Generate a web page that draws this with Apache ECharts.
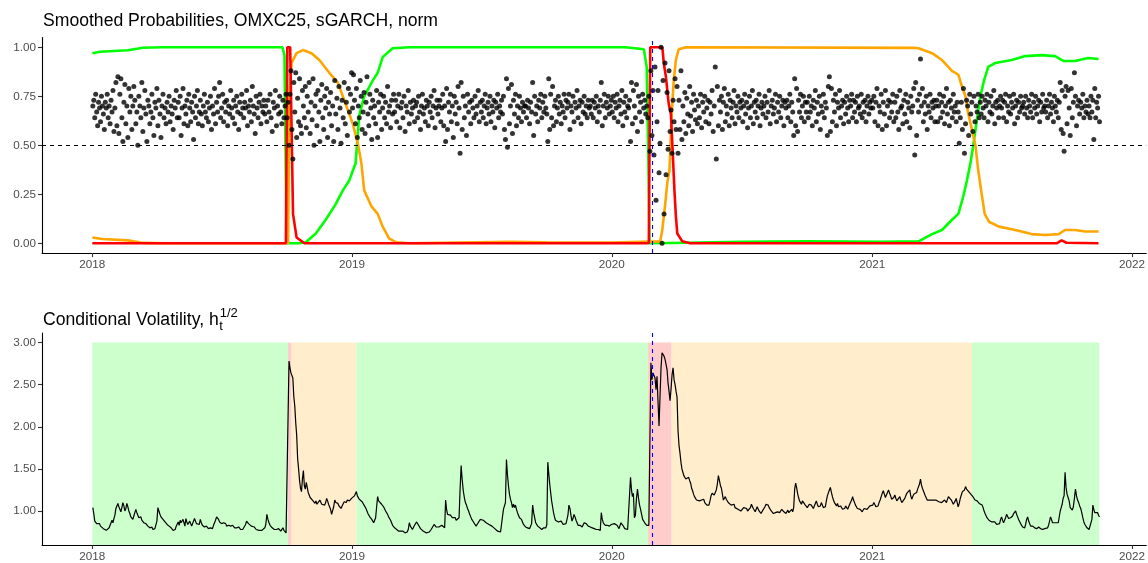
<!DOCTYPE html>
<html>
<head>
<meta charset="utf-8">
<title>Smoothed Probabilities and Conditional Volatility, OMXC25</title>
<script src="https://cdn.jsdelivr.net/npm/echarts@6/dist/echarts.min.js"></script>
<style>
  html, body { margin: 0; padding: 0; background: #fff; }
  #chart { width: 1148px; height: 563px; }
</style>
</head>
<body>
<div id="chart"></div>
<script>
// ---------- data ----------
// Tick labels
const yearTicks = ['2018-01-01', '2019-01-01', '2020-01-01', '2021-01-01', '2022-01-01'];
const probTicks = [0, 0.25, 0.5, 0.75, 1];
const volTicks = [1, 1.5, 2, 2.5, 3];

// Smoothed regime probabilities [date, probability]
const pLow = [
  ['2018-01-01',0.97],['2018-01-12',0.977],['2018-02-20',0.985],['2018-03-13',0.998],['2018-04-10',1.0],
  ['2018-09-25',1.0],['2018-09-28',0.96],['2018-10-01',0.0],['2018-10-19',0.0],['2018-10-28',0.005],
  ['2018-11-11',0.05],['2018-11-25',0.12],['2018-12-09',0.20],['2018-12-19',0.27],['2018-12-28',0.32],
  ['2019-01-06',0.41],['2019-01-08',0.51],['2019-01-11',0.65],['2019-01-18',0.75],['2019-01-30',0.83],
  ['2019-02-06',0.87],['2019-02-13',0.95],['2019-02-27',0.995],['2019-03-23',1.0],['2020-01-20',1.0],
  ['2020-02-15',0.99],['2020-02-19',0.9],['2020-02-21',0.5],['2020-02-23',0.0],['2020-04-15',0.003],
  ['2020-07-01',0.008],['2020-10-01',0.01],['2021-01-15',0.008],['2021-03-07',0.01],['2021-03-26',0.047],
  ['2021-04-09',0.068],['2021-04-23',0.12],['2021-05-02',0.15],['2021-05-09',0.24],['2021-05-14',0.32],
  ['2021-05-19',0.41],['2021-05-23',0.50],['2021-05-28',0.63],['2021-06-02',0.75],['2021-06-07',0.83],
  ['2021-06-13',0.90],['2021-06-23',0.92],['2021-07-16',0.935],['2021-08-04',0.955],['2021-08-27',0.96],
  ['2021-09-15',0.955],['2021-09-27',0.93],['2021-10-13',0.93],['2021-10-31',0.945],['2021-11-15',0.94]
];
const pMid = [
  ['2018-01-01',0.03],['2018-01-15',0.022],['2018-02-20',0.015],['2018-03-13',0.002],['2018-04-10',0],
  ['2018-10-03',0],['2018-10-05',0.75],['2018-10-08',0.92],['2018-10-15',0.97],['2018-10-24',0.986],
  ['2018-11-05',0.97],['2018-11-16',0.935],['2018-11-30',0.87],['2018-12-12',0.82],['2018-12-24',0.70],
  ['2019-01-02',0.61],['2019-01-09',0.51],['2019-01-14',0.41],['2019-01-18',0.27],['2019-01-28',0.19],
  ['2019-02-06',0.15],['2019-02-13',0.085],['2019-02-22',0.025],['2019-03-04',0.005],['2019-03-23',0],
  ['2019-06-01',0.004],['2019-08-10',0.008],['2019-10-01',0.005],['2020-01-01',0.004],['2020-03-09',0.01],
  ['2020-03-12',0.07],['2020-03-16',0.20],['2020-03-19',0.31],['2020-03-22',0.37],['2020-03-25',0.65],
  ['2020-03-28',0.83],['2020-03-31',0.935],['2020-04-04',0.99],['2020-04-14',1.0],['2021-03-01',0.997],
  ['2021-03-07',0.995],['2021-03-26',0.97],['2021-04-09',0.935],['2021-04-23',0.88],['2021-05-02',0.86],
  ['2021-05-07',0.80],['2021-05-12',0.75],['2021-05-16',0.66],['2021-05-21',0.58],['2021-05-26',0.50],
  ['2021-05-30',0.37],['2021-06-03',0.27],['2021-06-08',0.15],['2021-06-14',0.11],['2021-06-28',0.085],
  ['2021-07-21',0.068],['2021-08-13',0.047],['2021-09-01',0.042],['2021-09-20',0.047],['2021-09-29',0.068],
  ['2021-10-13',0.068],['2021-10-27',0.06],['2021-11-15',0.06]
];
const pHigh = [
  ['2018-01-01',0],['2018-09-30',0],['2018-10-02',1],['2018-10-06',1],['2018-10-08',0.58],
  ['2018-10-10',0.15],['2018-10-15',0.03],['2018-10-26',0],['2020-02-22',0],['2020-02-24',1],
  ['2020-03-12',1],['2020-03-14',0.92],['2020-03-17',0.85],['2020-03-21',0.71],['2020-03-24',0.66],
  ['2020-03-26',0.51],['2020-03-29',0.27],['2020-03-31',0.14],['2020-04-02',0.05],['2020-04-09',0.01],
  ['2020-04-20',0],['2021-09-17',0],['2021-09-24',0.015],['2021-10-01',0.003],['2021-11-15',0]
];

// Daily points shown in the upper panel, one row per month (x100)
const obs2018 = [
  [70,73,64,76,67,60,72,69,62,75,70,66,58,72,69,76,64,70,61,73,67,78,57],
  [69,82,60,85,56,76,84,64,52,72,81,61,70,54,79,67,75,58,70,80],
  [73,61,67,50,75,70,64,82,57,69,78,66,52,73,70,61,67,76,64,55,72,69],
  [79,60,73,66,54,70,76,64,69,61,72,67,75,62,70,66,58,73,69,78,64],
  [72,64,75,55,69,79,61,70,66,73,60,76,69,62,72,67,53,75,64,70,78,61,67],
  [73,66,60,70,76,67,64,72,62,69,75,58,70,66,79,61,72,67,75,82,64],
  [69,76,62,72,67,73,60,70,66,78,69,64,73,61,70,75,67,58,72,66,76,69],
  [64,72,69,78,60,70,67,73,62,80,70,66,56,75,69,64,72,76,61,70,67,73,66],
  [70,62,73,67,76,64,57,72,69,78,60,70,66,75,67,61,73,64,70,76],
  [64,72,50,76,88,58,43,82,67,87,54,74,62,84,60,56,78,70,64,80,59,75,67],
  [82,56,72,63,84,50,70,76,60,78,67,52,73,81,64,58,75,69,79,54,72,66],
  [77,60,70,52,83,66,74,58,80,69,51,73,64,82,61,72,55,79,67,76,87]
];
const obs2019 = [
  [69,86,73,61,79,54,70,64,83,75,58,67,77,56,72,85,66,60,76,69,53,73,64],
  [70,61,78,54,72,67,76,58,69,75,64,72,61,80,67,70,59,73,66,76],
  [67,73,62,70,76,59,69,72,64,75,57,70,67,78,61,72,66,69,73,62,70],
  [72,64,75,67,58,70,76,66,69,62,73,70,60,72,67,75,64,70,78,59,69,73],
  [66,70,73,62,69,76,60,70,52,79,58,72,67,76,62,70,54,75,66,72,61,80,69],
  [46,82,58,75,64,70,55,76,67,72,61,73,69,64,75,66,70,78,62,72],
  [67,73,64,70,76,61,69,72,66,75,62,70,67,73,59,72,69,76,64,70,67,73,66],
  [75,58,53,84,49,79,61,70,81,56,73,66,76,60,70,64,75,69,62,72,67,70],
  [70,64,73,69,61,72,67,82,55,75,66,70,62,73,69,76,64,72,67,75,69],
  [66,52,84,58,76,64,80,60,70,73,62,69,75,66,72,61,70,67,76,64,73,69,72],
  [76,58,70,67,75,62,72,69,78,64,70,73,61,72,67,75,66,70,64,73,69],
  [70,66,73,64,72,69,75,62,70,67,73,82,60,70,76,64,72,69,75,66,70,73]
];
const obs2020 = [
  [67,75,64,72,69,76,62,70,73,66,78,60,72,67,75,64,70,69,73,52,82,61,78],
  [70,64,81,57,75,67,72,62,76,69,73,66,70,64,75,47,88,55,78,45],
  [90,22,62,78,36,51,100,0,83,15,92,35,77,48,88,57,68,46,73,62,84,58],
  [80,46,73,58,88,53,70,62,77,56,74,66,60,80,65,72,57,76,68,63,73,61],
  [70,64,76,59,72,67,75,62,69,73,61,72,66,78,57,70,90,43,80,60,73],
  [67,75,58,72,79,62,70,66,76,60,73,69,64,72,78,61,70,67,75,64,72,69],
  [73,62,70,76,66,72,59,69,75,64,70,78,61,72,67,73,64,70,76,60,69,72,66],
  [70,75,64,72,67,78,61,70,73,66,69,76,62,72,67,75,64,70,73,60,72],
  [69,73,64,70,76,62,72,67,55,84,60,79,57,73,67,76,64,70,75,62,72,67],
  [72,64,75,67,70,60,73,69,78,62,72,66,75,58,70,67,76,64,72,69,55,80],
  [85,57,79,62,73,67,76,60,72,69,78,64,70,73,61,72,66,75,69,62,73],
  [70,76,64,73,67,72,62,75,69,70,66,76,64,72,67,73,62,70,75,66,72,69,73]
];
const obs2021 = [
  [69,75,62,72,79,60,70,67,76,58,72,66,78,60,70,73,64,72,67,76,62],
  [72,64,75,67,58,78,69,70,61,73,66,76,62,72,69,59,75,67,70,79],
  [45,82,55,73,67,76,94,70,79,62,72,66,75,58,70,67,76,64,72,69,73,62,70],
  [73,62,70,76,64,72,67,75,61,70,79,66,72,60,73,69,64,76,67,70,62,72],
  [67,51,64,72,58,79,46,61,73,70,55,76,66,72,57,75,62,70,67,76,64],
  [72,66,75,69,64,73,70,76,62,72,67,75,66,70,78,61,72,69,73,64,70,75],
  [69,73,64,72,76,62,70,67,75,66,72,69,76,61,70,73,64,72,67,75,69,70],
  [72,66,75,69,64,73,70,67,76,64,72,69,75,66,70,73,62,72,67,76,69,70],
  [67,73,64,70,76,66,72,69,62,75,70,67,73,64,72,82,58,78,56,47,75,80],
  [61,78,69,55,79,64,72,87,75,60,70,73,66,72,69,76,64,70,67,73,66],
  [70,64,75,67,73,53,79,64,72,69,75,62]
];

// Conditional volatility h_t^(1/2), one row per month (x100)
const vol2018 = [
  [104,97,88,86,85,84,83,85,82,81,80,79,80,78,77,76,77,80,78,82,89,86,91],
  [95,103,106,109,105,102,99,104,110,106,100,103,109,105,100,97,93,92,90,94],
  [96,102,98,95,92,90,93,89,88,86,87,85,84,82,83,80,79,81,78,77,79,78],
  [88,104,100,96,93,92,90,88,87,86,84,83,82,81,80,79,77,76,78,82,84],
  [87,83,89,86,84,90,86,82,91,87,84,83,88,85,82,80,84,91,88,85,83,86,84],
  [90,86,83,82,81,80,82,80,79,81,80,78,79,83,86,89,93,91,90,87,85],
  [85,87,86,84,85,82,80,83,84,82,81,83,82,80,81,80,79,81,80,78,79,78],
  [78,79,84,88,86,85,83,84,82,81,80,81,79,78,79,78,77,78,76,77,76,78,80],
  [84,96,90,86,83,81,80,79,78,79,78,77,79,77,76,78,80,77,75,74],
  [75,74,278,270,264,262,258,236,225,205,190,162,150,136,127,123,138,148,130,126,134,128,122],
  [119,116,114,115,112,111,109,112,108,107,110,113,111,108,106,109,107,110,115,112,108,105],
  [102,96,98,105,113,110,111,109,106,104,103,106,108,111,112,110,113,111,112,114,115]
];
const vol2019 = [
  [115,116,118,120,123,118,117,114,115,112,111,109,107,105,103,100,97,95,93,91,90,88,86],
  [86,92,105,117,112,113,110,108,107,105,103,100,98,96,93,92,89,86,83,81],
  [80,79,78,77,76,77,76,75,76,75,74,76,75,78,86,82,80,78,79,83,84],
  [87,85,83,81,79,78,77,76,76,75,74,75,74,75,76,78,77,80,84,82,81,83],
  [82,81,80,82,83,81,82,80,113,102,96,95,94,95,93,92,93,91,92,89,90,88,92],
  [125,154,137,124,116,110,107,103,100,96,93,90,88,86,84,82,84,86,88,90],
  [90,92,89,91,88,86,87,85,84,83,84,82,81,80,79,78,77,76,76,75,75,74,75],
  [102,106,110,161,143,130,120,114,110,104,108,104,107,102,98,97,92,94,90,87,84,82],
  [81,82,80,81,79,80,85,107,98,92,86,84,82,81,80,79,78,79,80,82,80],
  [84,158,145,132,122,112,105,98,93,89,88,89,87,89,88,88,86,84,83,82,85,87,95],
  [107,103,95,88,91,96,93,89,86,83,82,83,84,81,83,86,88,85,83,82,82],
  [81,80,80,79,79,78,78,77,78,77,77,98,90,86,84,83,82,83,84,82,83,84]
];
const vol2020 = [
  [84,83,85,86,84,83,81,79,77,86,87,83,81,79,77,77,78,77,78,140,125,117,121],
  [92,95,115,126,115,107,102,96,90,88,86,85,83,82,83,84,276,256,264,262],
  [258,244,260,230,201,236,270,288,286,284,280,274,268,252,242,231,245,262,270,256,250,242],
  [235,195,178,169,158,150,146,142,140,138,136,139,140,136,133,127,124,120,117,115,113,111],
  [111,112,110,113,112,114,110,108,107,109,107,112,118,121,120,119,121,125,132,142,136],
  [130,127,120,113,115,117,114,112,110,108,110,107,105,106,108,104,103,105,102,101,103,100],
  [99,101,104,102,106,103,100,98,101,104,108,106,103,101,99,102,105,103,100,98,97,99,101],
  [103,105,108,110,107,104,102,100,99,97,96,98,100,99,97,98,100,102,101,99,98],
  [97,99,101,98,96,100,102,99,104,126,133,128,121,116,112,110,108,112,114,110,107,105],
  [104,106,108,110,107,105,103,106,109,112,108,105,103,106,110,107,104,102,105,112,118,116],
  [125,128,122,117,113,110,108,106,109,105,103,106,104,102,101,103,106,104,102,105,108],
  [110,113,117,113,110,107,105,103,101,104,102,100,99,101,103,105,104,102,100,103,106,104,105]
];
const vol2021 = [
  [107,110,108,105,103,106,110,113,117,121,124,120,116,119,122,125,121,118,114,112,116],
  [119,115,112,110,114,117,113,110,108,111,115,118,121,119,123,125,118,114,116,120],
  [120,118,122,126,128,132,138,131,127,124,122,118,116,113,112,114,113,111,112,113,111,112,113],
  [115,113,111,112,113,110,109,111,113,112,110,114,117,119,116,113,111,108,110,112,115,113],
  [105,109,115,119,123,121,125,129,126,124,123,121,120,119,117,115,113,114,112,111,109],
  [108,108,107,104,100,97,95,92,90,89,88,89,87,88,86,87,85,84,83,82,85,90],
  [93,89,86,88,92,96,95,91,89,92,90,94,97,99,100,96,93,90,88,85,83,81],
  [81,80,84,90,93,88,85,82,83,82,81,80,80,79,80,81,80,79,79,78,78,79],
  [78,79,80,83,88,93,90,86,84,85,86,84,85,86,85,100,104,108,115,118,146,128],
  [120,116,112,104,102,101,105,115,126,118,113,110,106,103,98,92,87,84,82,80,79],
  [78,77,79,90,107,102,98,97,99,98,95,93]
];

// Regimes shaded behind the volatility path
const regimeStart = ['2018-01-01','2018-10-03','2018-10-08','2019-01-07','2020-02-21','2020-03-25','2021-05-21'];
const regimeEnd   = ['2018-10-03','2018-10-08','2019-01-07','2020-02-21','2020-03-25','2021-05-21','2021-11-16'];
const regimeState = ['low','high','mid','low','high','mid','low'];
const shadeTop = 3;

// Date marked by the dashed vertical line
const eventDate = '2020-02-27';

// ---------- helpers ----------
const ts = s => Date.parse(s);

// Spread each month's daily values across that month
function daily(year, rows, stopDay) {
  const out = [];
  rows.forEach((vals, m) => {
    const start = Date.UTC(year, m, 1);
    const last = stopDay && m === rows.length - 1;
    const end = last ? Date.UTC(year, m, stopDay) : Date.UTC(year, m + 1, 1);
    const step = (end - start) / vals.length;
    vals.forEach((v, k) => out.push([start + (k + 0.5) * step, v / 100]));
  });
  return out;
}

const obsData = [].concat(daily(2018, obs2018), daily(2019, obs2019), daily(2020, obs2020), daily(2021, obs2021, 17));
const volData = [].concat(daily(2018, vol2018), daily(2019, vol2019), daily(2020, vol2020), daily(2021, vol2021, 17));
const asPairs = arr => arr.map(d => [ts(d[0]), d[1]]);

// ---------- layout ----------
const FONT = '"Liberation Sans", Arial, sans-serif';
const dataStart = ts('2018-01-01');
const dataEnd = ts('2021-11-16');
const pad = 0.05 * (dataEnd - dataStart);
const xMin = dataStart - pad;
const xMax = ts('2022-01-21');          // the panel runs to the right edge of the page
const volMin = 0.596, volMax = 3.114;
const shadeColor = { low: '#CCFFCC', mid: '#FFEDCC', high: '#FFCCCC' };

const xTickVals = yearTicks.map(ts);
function xAxis(gridIndex) {
  return {
    type: 'value', gridIndex, min: xMin, max: xMax,
    axisLine: { onZero: false, lineStyle: { color: '#000', width: 1.1 } },
    axisTick: { customValues: xTickVals, length: 4, lineStyle: { color: '#333', width: 1.1 } },
    axisLabel: {
      customValues: xTickVals, formatter: v => String(new Date(v).getUTCFullYear()),
      color: '#4D4D4D', fontSize: 11.7, fontFamily: FONT, margin: 6
    },
    splitLine: { show: false }
  };
}
function yAxis(gridIndex, min, max, ticks) {
  return {
    type: 'value', gridIndex, min, max,
    axisLine: { show: true, onZero: false, lineStyle: { color: '#000', width: 1.1 } },
    axisTick: { show: true, customValues: ticks, length: 4, lineStyle: { color: '#333', width: 1.1 } },
    axisLabel: {
      customValues: ticks, formatter: v => v.toFixed(2),
      color: '#4D4D4D', fontSize: 11.7, fontFamily: FONT, margin: 6
    },
    splitLine: { show: false }
  };
}

// Title pieces; the h_t^(1/2) symbol is set after the measured main text
const titleFont = '17.6px ' + FONT;
const volTitle = 'Conditional Volatility, h';
const ctx = document.createElement('canvas').getContext('2d');
ctx.font = titleFont;
const volTitleW = ctx.measureText(volTitle).width;

const eventLine = {
  silent: true, symbol: 'none', label: { show: false },
  lineStyle: { color: '#0000FF', type: [4, 4], width: 1.1 },
  data: [{ xAxis: ts(eventDate) }]
};

const probLine = (data, color) => ({
  type: 'line', xAxisIndex: 0, yAxisIndex: 0, data: asPairs(data),
  showSymbol: false, symbol: 'none', lineStyle: { color, width: 2.6 }, itemStyle: { color },
  z: 3, silent: true
});

const chart = echarts.init(document.getElementById('chart'));
chart.setOption({
  animation: false,
  backgroundColor: '#fff',
  graphic: [
    { type: 'text', left: 43, top: 12, style: { text: 'Smoothed Probabilities, OMXC25, sGARCH, norm', font: titleFont, fill: '#000' } },
    { type: 'text', left: 43, top: 311, style: { text: volTitle, font: titleFont, fill: '#000' } },
    { type: 'text', left: 43 + volTitleW + 1, top: 307, style: { text: '1/2', font: '13px ' + FONT, fill: '#000' } },
    { type: 'text', left: 43 + volTitleW + 0.5, top: 320, style: { text: 't', font: '13px ' + FONT, fill: '#000' } }
  ],
  grid: [
    { left: 42, right: 0, top: 37.5, height: 215.6 },
    { left: 42, right: 0, top: 333, height: 214 }
  ],
  xAxis: [xAxis(0), xAxis(1)],
  yAxis: [yAxis(0, -0.05, 1.05, probTicks), yAxis(1, volMin, volMax, volTicks)],
  series: [
    probLine(pLow, '#00FF00'),
    probLine(pMid, '#FFA500'),
    Object.assign(probLine(pHigh, '#FF0000'), { markLine: eventLine }),
    {
      type: 'scatter', xAxisIndex: 0, yAxisIndex: 0, data: obsData,
      symbolSize: 5, itemStyle: { color: '#000' }, z: 4, silent: true,
      markLine: {
        silent: true, symbol: 'none', label: { show: false },
        lineStyle: { color: '#000', type: [4, 4], width: 1.1 },
        data: [{ yAxis: 0.5 }]
      }
    },
    {
      type: 'custom', xAxisIndex: 1, yAxisIndex: 1, z: 1, silent: true, clip: true,
      data: regimeStart.map((s, i) => [ts(s), ts(regimeEnd[i])]),
      encode: { x: [0, 1] },
      renderItem: (params, api) => {
        const a = api.coord([api.value(0), shadeTop]);
        const b = api.coord([api.value(1), volMin]);
        return {
          type: 'rect',
          shape: { x: a[0], y: a[1], width: b[0] - a[0], height: b[1] - a[1] },
          style: { fill: shadeColor[regimeState[params.dataIndex]] }
        };
      }
    },
    {
      type: 'line', xAxisIndex: 1, yAxisIndex: 1, data: volData, z: 3, silent: true,
      showSymbol: false, symbol: 'none', lineStyle: { color: '#000', width: 1.2 }, itemStyle: { color: '#000' },
      markLine: eventLine
    }
  ]
});
</script>
</body>
</html>
